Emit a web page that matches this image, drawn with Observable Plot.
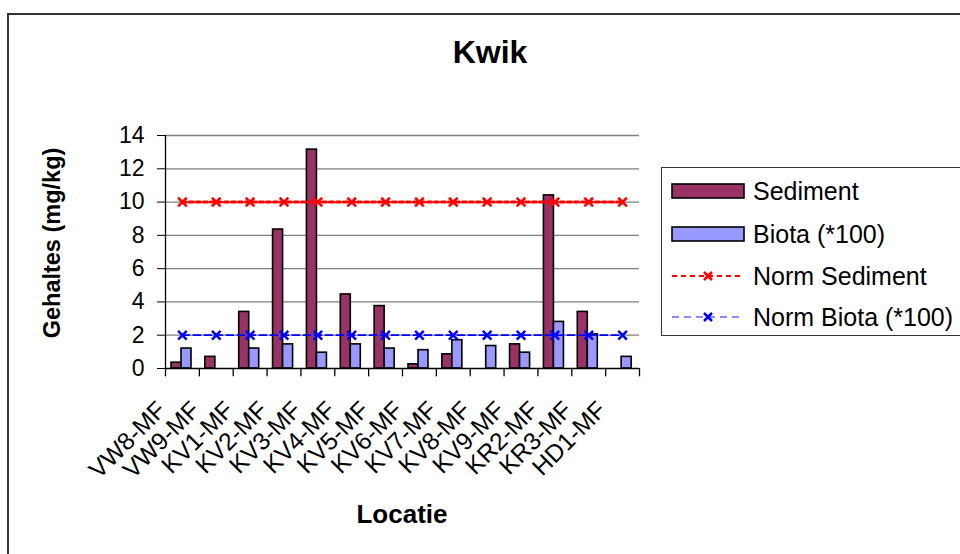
<!DOCTYPE html>
<html>
<head>
<meta charset="utf-8">
<script src="https://cdn.jsdelivr.net/npm/d3@7"></script>
<script src="https://cdn.jsdelivr.net/npm/@observablehq/plot@0.6"></script>
<style>
  html, body { margin: 0; padding: 0; background: #fff; }
  #wrap { position: relative; width: 960px; height: 554px; overflow: hidden; background: #fff;
          font-family: "Liberation Sans", Arial, sans-serif; color: #000; }
  #wrap svg.chart { position: absolute; left: 0; top: 0; }
  .border { position: absolute; left: 7px; top: 13px; width: 1100px; height: 700px;
            border: 2px solid #333; box-sizing: border-box; }
  .title { position: absolute; left: 0; width: 980px; top: 34px; text-align: center;
           font-weight: bold; font-size: 32px; }
  .ylabel { position: absolute; left: 52px; top: 243px; transform: translate(-50%, -50%) rotate(-90deg);
            white-space: nowrap; font-weight: bold; font-size: 23.5px; }
  .xlabel { position: absolute; left: 402px; top: 499px; transform: translateX(-50%);
            font-weight: bold; font-size: 26px; white-space: nowrap; }
  .legend { position: absolute; left: 661px; top: 167px; width: 400px; height: 169px;
            border: 1.5px solid #333; box-sizing: border-box; background: #fff; }
  .legend .row { position: absolute; left: 9px; height: 30px; display: flex; align-items: center; }
  .legend .row span { font-size: 25px; margin-left: 8px; white-space: nowrap; }
</style>
</head>
<body>
<div id="wrap">
  <div class="border"></div>
</div>
<script>
// ---- data ----
const locaties = ["VW8-MF","VW9-MF","KV1-MF","KV2-MF","KV3-MF","KV4-MF","KV5-MF","KV6-MF","KV7-MF","KV8-MF","KV9-MF","KR2-MF","KR3-MF","HD1-MF"];
const sediment = [0.35, 0.7, 3.4, 8.35, 13.15, 4.45, 3.75, 0.25, 0.85, null, 1.45, 10.4, 3.4, null];
const biota    = [1.2, null, 1.2, 1.45, 0.95, 1.45, 1.2, 1.1, 1.7, 1.35, 0.95, 2.8, 2.05, 0.7];
const normSediment = [10,10,10,10,10,10,10,10,10,10,10,10,10,10];
const normBiota    = [2,2,2,2,2,2,2,2,2,2,2,2,2,2];
const yTicks = [0, 2, 4, 6, 8, 10, 12, 14];
const seriesNames = ["Sediment", "Biota (*100)", "Norm Sediment", "Norm Biota (*100)"];
const colors = {sediment: "#993366", biota: "#9999FF", normSed: "#FF0000", normBio: "#0000FF"};

const rows = locaties.map((loc, i) => ({loc, sediment: sediment[i], biota: biota[i], normSed: normSediment[i], normBio: normBiota[i]}));

const W = 960, H = 554, mL = 165, mR = 321, mT = 135, mB = 186;
const step = (W - mL - mR) / locaties.length;

const chart = Plot.plot({
  width: W, height: H,
  marginLeft: mL, marginRight: mR, marginTop: mT, marginBottom: mB,
  style: {fontFamily: '"Liberation Sans", Arial, sans-serif', fontSize: "23px", color: "#000", background: "transparent", overflow: "visible"},
  x: {type: "band", domain: locaties, padding: 0, round: false, axis: null},
  y: {domain: [0, 14], ticks: yTicks, tickSize: 8, tickPadding: 13, label: null, tickFormat: d => String(d)},
  marks: [
    Plot.ruleY(yTicks.filter(d => d > 0), {stroke: "#7f7f7f", strokeWidth: 1.3}),
    Plot.barY(rows.filter(d => d.sediment != null), {x: "loc", y: "sediment", fill: colors.sediment, stroke: "#000", strokeWidth: 1.6, insetLeft: 6, insetRight: step - 16}),
    Plot.barY(rows.filter(d => d.biota != null), {x: "loc", y: "biota", fill: colors.biota, stroke: "#000", strokeWidth: 1.6, insetLeft: 16, insetRight: step - 26}),
    Plot.line(rows, {x: "loc", y: "normSed", stroke: colors.normSed, strokeWidth: 3, strokeDasharray: "4,3"}),
    Plot.dot(rows, {x: "loc", y: "normSed", symbol: "times", r: 4, stroke: colors.normSed, strokeWidth: 2.5}),
    Plot.line(rows, {x: "loc", y: "normBio", stroke: colors.normBio, strokeWidth: 1.8, strokeDasharray: "7,4"}),
    Plot.dot(rows, {x: "loc", y: "normBio", symbol: "times", r: 4, stroke: colors.normBio, strokeWidth: 2.5}),
    // axes lines
    Plot.ruleY([0], {stroke: "#000", strokeWidth: 1.3}),
    Plot.ruleX([locaties[0]], {y1: 0, y2: 14, dx: -step / 2, stroke: "#000", strokeWidth: 1.3}),
    // category boundary ticks below x axis
    Plot.ruleX(locaties, {y1: 0, y2: -0.5, dx: -step / 2, stroke: "#000", strokeWidth: 1.3}),
    Plot.ruleX([locaties[locaties.length - 1]], {y1: 0, y2: -0.5, dx: step / 2, stroke: "#000", strokeWidth: 1.3}),
    // rotated category labels
    Plot.text(locaties, {x: d => d, frameAnchor: "bottom", rotate: -45, textAnchor: "end", lineAnchor: "bottom", dx: -15, dy: 43, fontSize: 24.5, fill: "#000"})
  ]
});
chart.classList.add("chart");
const wrap = document.getElementById("wrap");
wrap.appendChild(chart);

// Title and axis titles
const t = document.createElement("div"); t.className = "title"; t.textContent = "Kwik"; wrap.appendChild(t);
const yl = document.createElement("div"); yl.className = "ylabel"; yl.textContent = "Gehaltes (mg/kg)"; wrap.appendChild(yl);
const xl = document.createElement("div"); xl.className = "xlabel"; xl.textContent = "Locatie"; wrap.appendChild(xl);

// Legend
const legend = document.createElement("div"); legend.className = "legend"; wrap.appendChild(legend);
const swatches = [
  `<svg width="74" height="20"><rect x="1" y="3" width="72" height="14" fill="${colors.sediment}" stroke="#000" stroke-width="1.6"/></svg>`,
  `<svg width="74" height="20"><rect x="1" y="3" width="72" height="14" fill="${colors.biota}" stroke="#000" stroke-width="1.6"/></svg>`,
  `<svg width="74" height="20"><line x1="1" x2="73" y1="10" y2="10" stroke="${colors.normSed}" stroke-width="2" stroke-dasharray="5,4"/><path d="M33,6L41,14M33,14L41,6" stroke="${colors.normSed}" stroke-width="2.5"/></svg>`,
  `<svg width="74" height="20"><line x1="1" x2="73" y1="10" y2="10" stroke="#6666FF" stroke-width="1.6" stroke-dasharray="7,5"/><path d="M33,6L41,14M33,14L41,6" stroke="${colors.normBio}" stroke-width="2.5"/></svg>`
];
const rowCenters = [190, 233, 275, 316];
seriesNames.forEach((name, i) => {
  const r = document.createElement("div");
  r.className = "row";
  r.style.top = (rowCenters[i] - 167 - 15) + "px";
  r.innerHTML = swatches[i] + `<span>${name}</span>`;
  legend.appendChild(r);
});
</script>
</body>
</html>
